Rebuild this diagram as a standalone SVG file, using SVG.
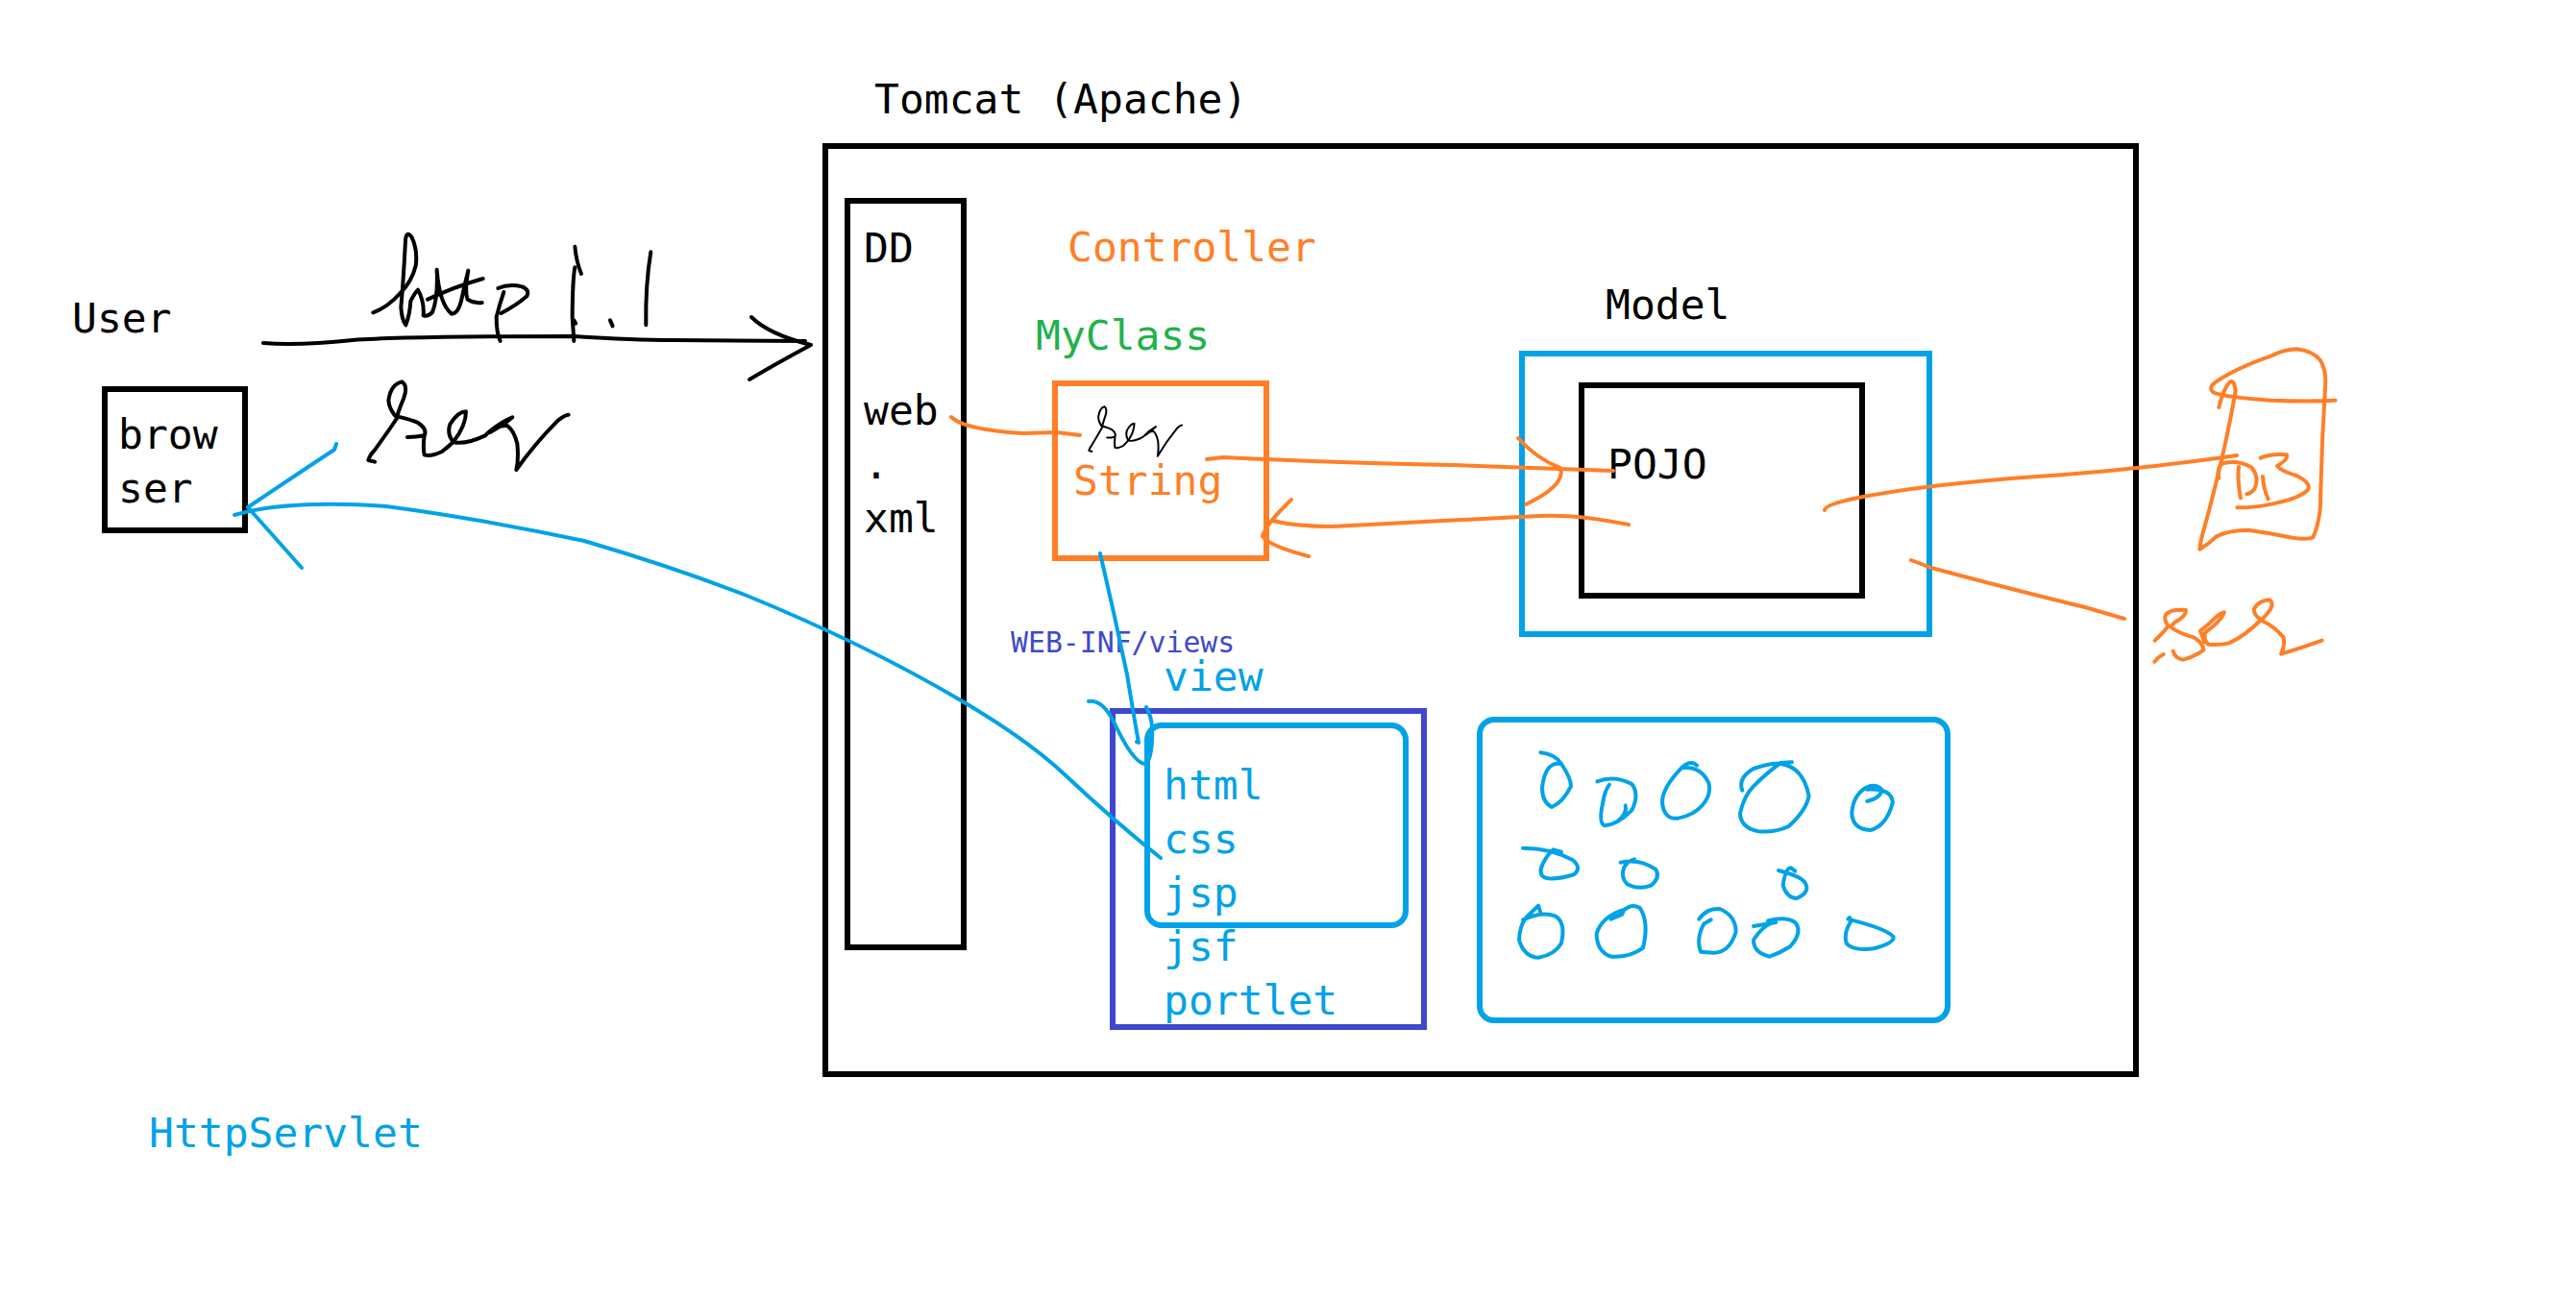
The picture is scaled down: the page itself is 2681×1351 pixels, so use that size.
<svg xmlns="http://www.w3.org/2000/svg" width="2681" height="1351" viewBox="0 0 2681 1351">
<style>
text{font-family:"DejaVu Sans Mono","Liberation Mono",monospace;font-size:43px}
.k{fill:#000}.o{fill:#ff7f27}.g{fill:#22b14c}.b{fill:#00a2e8}.i{fill:#3f48cc}
rect{fill:none;stroke-width:6}
path{fill:none;stroke-linecap:round;stroke-linejoin:round;vector-effect:non-scaling-stroke}
.sk,.so,.sb{stroke-width:4}
.sk{stroke:#000}.so{stroke:#ff7f27}.sb{stroke:#00a2e8}
</style>
<defs>
<path id="req" stroke="#000" d="M60,287 L40,282 Q45,265 60,250 Q100,195 130,150 Q105,125 103,95 Q110,45 145,37 Q165,50 150,90 Q135,125 130,145 Q175,155 195,165 Q225,185 215,205 Q190,210 162,210 M215,205 Q210,240 215,265 Q235,272 270,255 Q290,240 305,225 Q285,200 295,170 Q320,130 345,130 Q345,175 305,225 Q340,235 405,205 Q440,170 490,148 Q465,170 420,195 Q450,170 475,175 Q495,190 505,230 Q510,280 502,312 Q560,230 630,160 Q650,142 665,140"/>
</defs>
<rect width="2681" height="1351" style="fill:#fff;stroke:none"/>
<g id="user"><text class="k" x="75" y="346">User</text></g>
<g id="browser"><rect x="109" y="405" width="146" height="147" stroke="#000"/><text class="k" x="123" y="467">brow</text><text class="k" x="123" y="523">ser</text></g>
<g id="tomcat"><text class="k" x="910" y="118">Tomcat (Apache)</text><rect x="859" y="152" width="1364" height="966" stroke="#000"/></g>
<g id="dd"><rect x="882" y="209" width="121" height="777" stroke="#000"/><text class="k" x="899" y="273">DD</text><text class="k" x="899" y="442">web</text><text class="k" x="899" y="498">.</text><text class="k" x="899" y="554">xml</text></g>
<g id="controller"><text class="o" x="1111" y="272">Controller</text><text class="g" x="1078" y="364">MyClass</text><rect x="1098" y="399" width="220" height="182" stroke="#ff7f27"/><text class="o" x="1117" y="515">String</text></g>
<g id="model"><text class="k" x="1671" y="332">Model</text><rect x="1584" y="368" width="424" height="292" stroke="#00a2e8"/></g>
<g id="pojo"><rect x="1646" y="401" width="292" height="219" stroke="#000"/><text class="k" x="1673" y="498">POJO</text></g>
<g id="view"><text x="1052" y="679" class="i" style="font-size:29.8px">WEB-INF/views</text><text class="b" x="1211" y="719">view</text><rect x="1158" y="740" width="324" height="329" stroke="#3f48cc"/><rect x="1194" y="755" width="269" height="208" rx="15" stroke="#00a2e8"/><text class="b" x="1211" y="832">html</text><text class="b" x="1211" y="888">css</text><text class="b" x="1211" y="944">jsp</text><text class="b" x="1211" y="1000">jsf</text><text class="b" x="1211" y="1056">portlet</text></g>
<g id="pool"><rect x="1540" y="749" width="487" height="313" rx="15" stroke="#00a2e8"/></g>
<g id="httpservlet"><text class="b" x="155" y="1194">HttpServlet</text></g>
<g id="pool-objects" transform="translate(1520,740) scale(.3333)">
<path class="sb" d="M250,130 Q295,135 315,165 Q345,210 345,235 Q320,285 285,300 Q255,285 255,240 Q265,155 315,165"/>
<path class="sb" d="M427,220 Q480,200 535,228 Q560,260 535,310 Q490,355 450,358 Q430,350 445,285 Q450,250 465,230 M515,295 Q522,320 490,345"/>
<path class="sb" d="M738,170 Q720,150 690,178 Q630,240 630,285 Q635,340 680,335 Q730,325 755,295 Q785,260 775,225 Q750,170 690,178"/>
<path class="sb" d="M880,248 Q865,210 915,180 Q975,160 1000,165 Q1070,175 1088,265 Q1080,310 1025,360 Q985,380 930,376 Q875,365 873,320 Q885,265 915,235 Q960,190 1000,162 L1035,160"/>
<path class="sb" d="M1270,282 Q1315,270 1315,245 Q1295,225 1265,240 Q1225,265 1222,320 Q1225,370 1280,372 Q1330,360 1350,285 Q1345,240 1270,245"/>
<path class="sb" d="M195,428 Q280,428 350,465 Q380,490 355,510 Q310,525 275,523 Q245,520 252,490 Q265,455 290,433 L315,440"/>
<path class="sb" d="M500,473 Q560,460 610,495 Q625,520 595,545 Q555,560 520,540 Q500,520 510,490 Q520,470 543,463"/>
<path class="sb" d="M993,498 Q1060,515 1075,535 Q1095,565 1050,585 Q1020,585 1007,545 Q1015,490 1032,490 L1045,500"/>
<path class="sb" d="M250,630 L243,608 L205,645 Q185,670 183,715 Q200,770 245,770 Q295,760 315,725 Q330,660 295,640 Q255,625 195,652"/>
<path class="sb" d="M470,650 L505,635 L510,622 Q535,600 560,615 Q590,660 570,740 Q530,770 470,767 Q425,750 425,695 Q440,645 505,622"/>
<path class="sb" d="M745,650 Q770,615 810,618 Q860,640 860,690 Q840,755 790,755 L750,752 Q735,710 760,665 L782,652"/>
<path class="sb" d="M915,672 L985,660 L960,655 Q1015,640 1045,660 Q1070,690 1030,735 Q1000,755 965,767 Q915,755 915,715 Q940,675 975,660"/>
<path class="sb" d="M1215,645 L1220,655 Q1195,695 1205,725 Q1225,750 1290,742 Q1355,725 1352,705 Q1330,680 1210,650"/>
</g>
<g id="db-sketch" transform="translate(2270,350) scale(.3333)">
<path class="so" d="M118,222 Q130,170 150,145 Q165,130 170,170 Q155,260 130,370 Q100,500 72,600 Q60,640 58,665 Q85,650 110,625 Q150,605 210,605 Q280,615 340,628 Q395,637 412,628 Q430,590 435,530 Q438,350 450,160 Q455,110 435,75 Q410,45 360,40 Q320,42 280,62 Q170,100 105,145 Q85,160 100,175 Q130,190 280,200 Q400,205 482,200"/>
<path class="so" d="M180,408 Q175,450 186,505 M118,443 Q110,410 130,397 Q180,385 220,410 Q245,440 230,475 Q220,490 205,493 M255,438 Q258,480 272,508 M248,380 Q280,365 330,370 Q335,385 300,405 Q310,420 360,435 Q410,460 395,480 Q370,505 300,520 Q240,535 175,535"/>
</g>
<g id="ser-sketch" transform="translate(2230,610) scale(.3333)">
<path class="so" d="M38,170 Q60,150 80,125 Q65,105 72,90 Q85,72 135,75 Q135,95 105,110 Q85,125 90,130 Q120,150 160,160 Q190,180 190,200 Q160,222 125,230 Q100,225 95,203 M37,236 Q50,220 65,213"/>
<path class="so" d="M192,175 Q185,150 180,140 Q200,125 225,100 Q250,80 255,82 Q245,110 195,145 Q190,170 205,182 Q240,185 270,178 Q320,155 370,105 Q345,90 348,70 Q365,45 395,43 Q415,55 390,85 Q375,100 372,108 Q410,125 440,160 Q445,185 432,212 Q490,195 560,170"/>
</g>
<g id="http-sketch" transform="translate(370,230) scale(.3333)">
<path class="sk" d="M55,286 Q100,270 140,225 Q175,190 188,140 Q195,90 175,50 Q160,28 156,60 Q150,180 142,270 Q145,310 157,325 Q170,290 172,250 Q185,225 195,215 Q215,250 212,295 Q225,300 240,285 Q258,240 254,152 Q262,260 300,290 Q320,290 330,250 Q340,200 352,155 Q340,220 350,245 Q370,258 395,255 M225,245 Q310,205 398,180"/>
<path class="sk" d="M452,375 Q440,350 440,300 Q450,260 463,222 M445,210 Q480,195 520,205 Q545,215 535,235 Q500,265 455,288"/>
<path class="sk" d="M685,80 Q690,130 705,165 M685,145 Q678,180 677,300 Q680,340 682,375 M682,310 L688,320 M795,310 L803,328 M922,97 Q905,200 907,325"/>
</g>
<g id="req-sketches">
<use href="#req" transform="translate(370,385) scale(.3333)" stroke-width="4"/>
<use href="#req" transform="translate(1127.15,416.4) scale(.1547,.1867)" stroke-width="2"/>
</g>
<g id="connectors">
<path class="sk" d="M274,357 Q310,360 367,354 Q420,350 597,350 Q660,354 700,354 L838,355"/>
<path class="sk" d="M782,330 Q800,348 844,359 Q805,380 780,395"/>
<path class="sb" d="M350,462 L348,468 Q310,493 258,528 L314,591"/>
<path class="sb" d="M244,536 Q300,520 402,527 Q500,540 608,563 Q700,590 775,619 Q900,670 1000,729 Q1070,770 1110,808 Q1160,855 1208,893"/>
<path class="sb" d="M1145,576 Q1160,640 1173,702 Q1180,745 1185,773 L1183,772"/>
<path class="sb" d="M1133,730 Q1148,728 1160,753 Q1180,795 1192,795 Q1200,790 1199,756 Q1198,745 1193,736"/>
<path class="so" d="M990,434 Q1003,447 1064,451 L1100,450 L1124,453"/>
<path class="so" d="M1256,478 L1273,476 Q1400,482 1513,484 L1679,490"/>
<path class="so" d="M1580,456 Q1600,478 1624,487 Q1630,505 1588,525"/>
<path class="so" d="M1695,546 Q1640,535 1602,537 Q1450,545 1386,548 Q1350,548 1324,542"/>
<path class="so" d="M1344,520 Q1318,545 1314,558 Q1320,568 1362,579"/>
<path class="so" d="M1899,531 Q1899,525 1934,518 Q2000,505 2106,497 Q2220,490 2328,474"/>
<path class="so" d="M1989,583 L2010,591 Q2100,615 2170,632 L2211,644"/>
</g>
</svg>
